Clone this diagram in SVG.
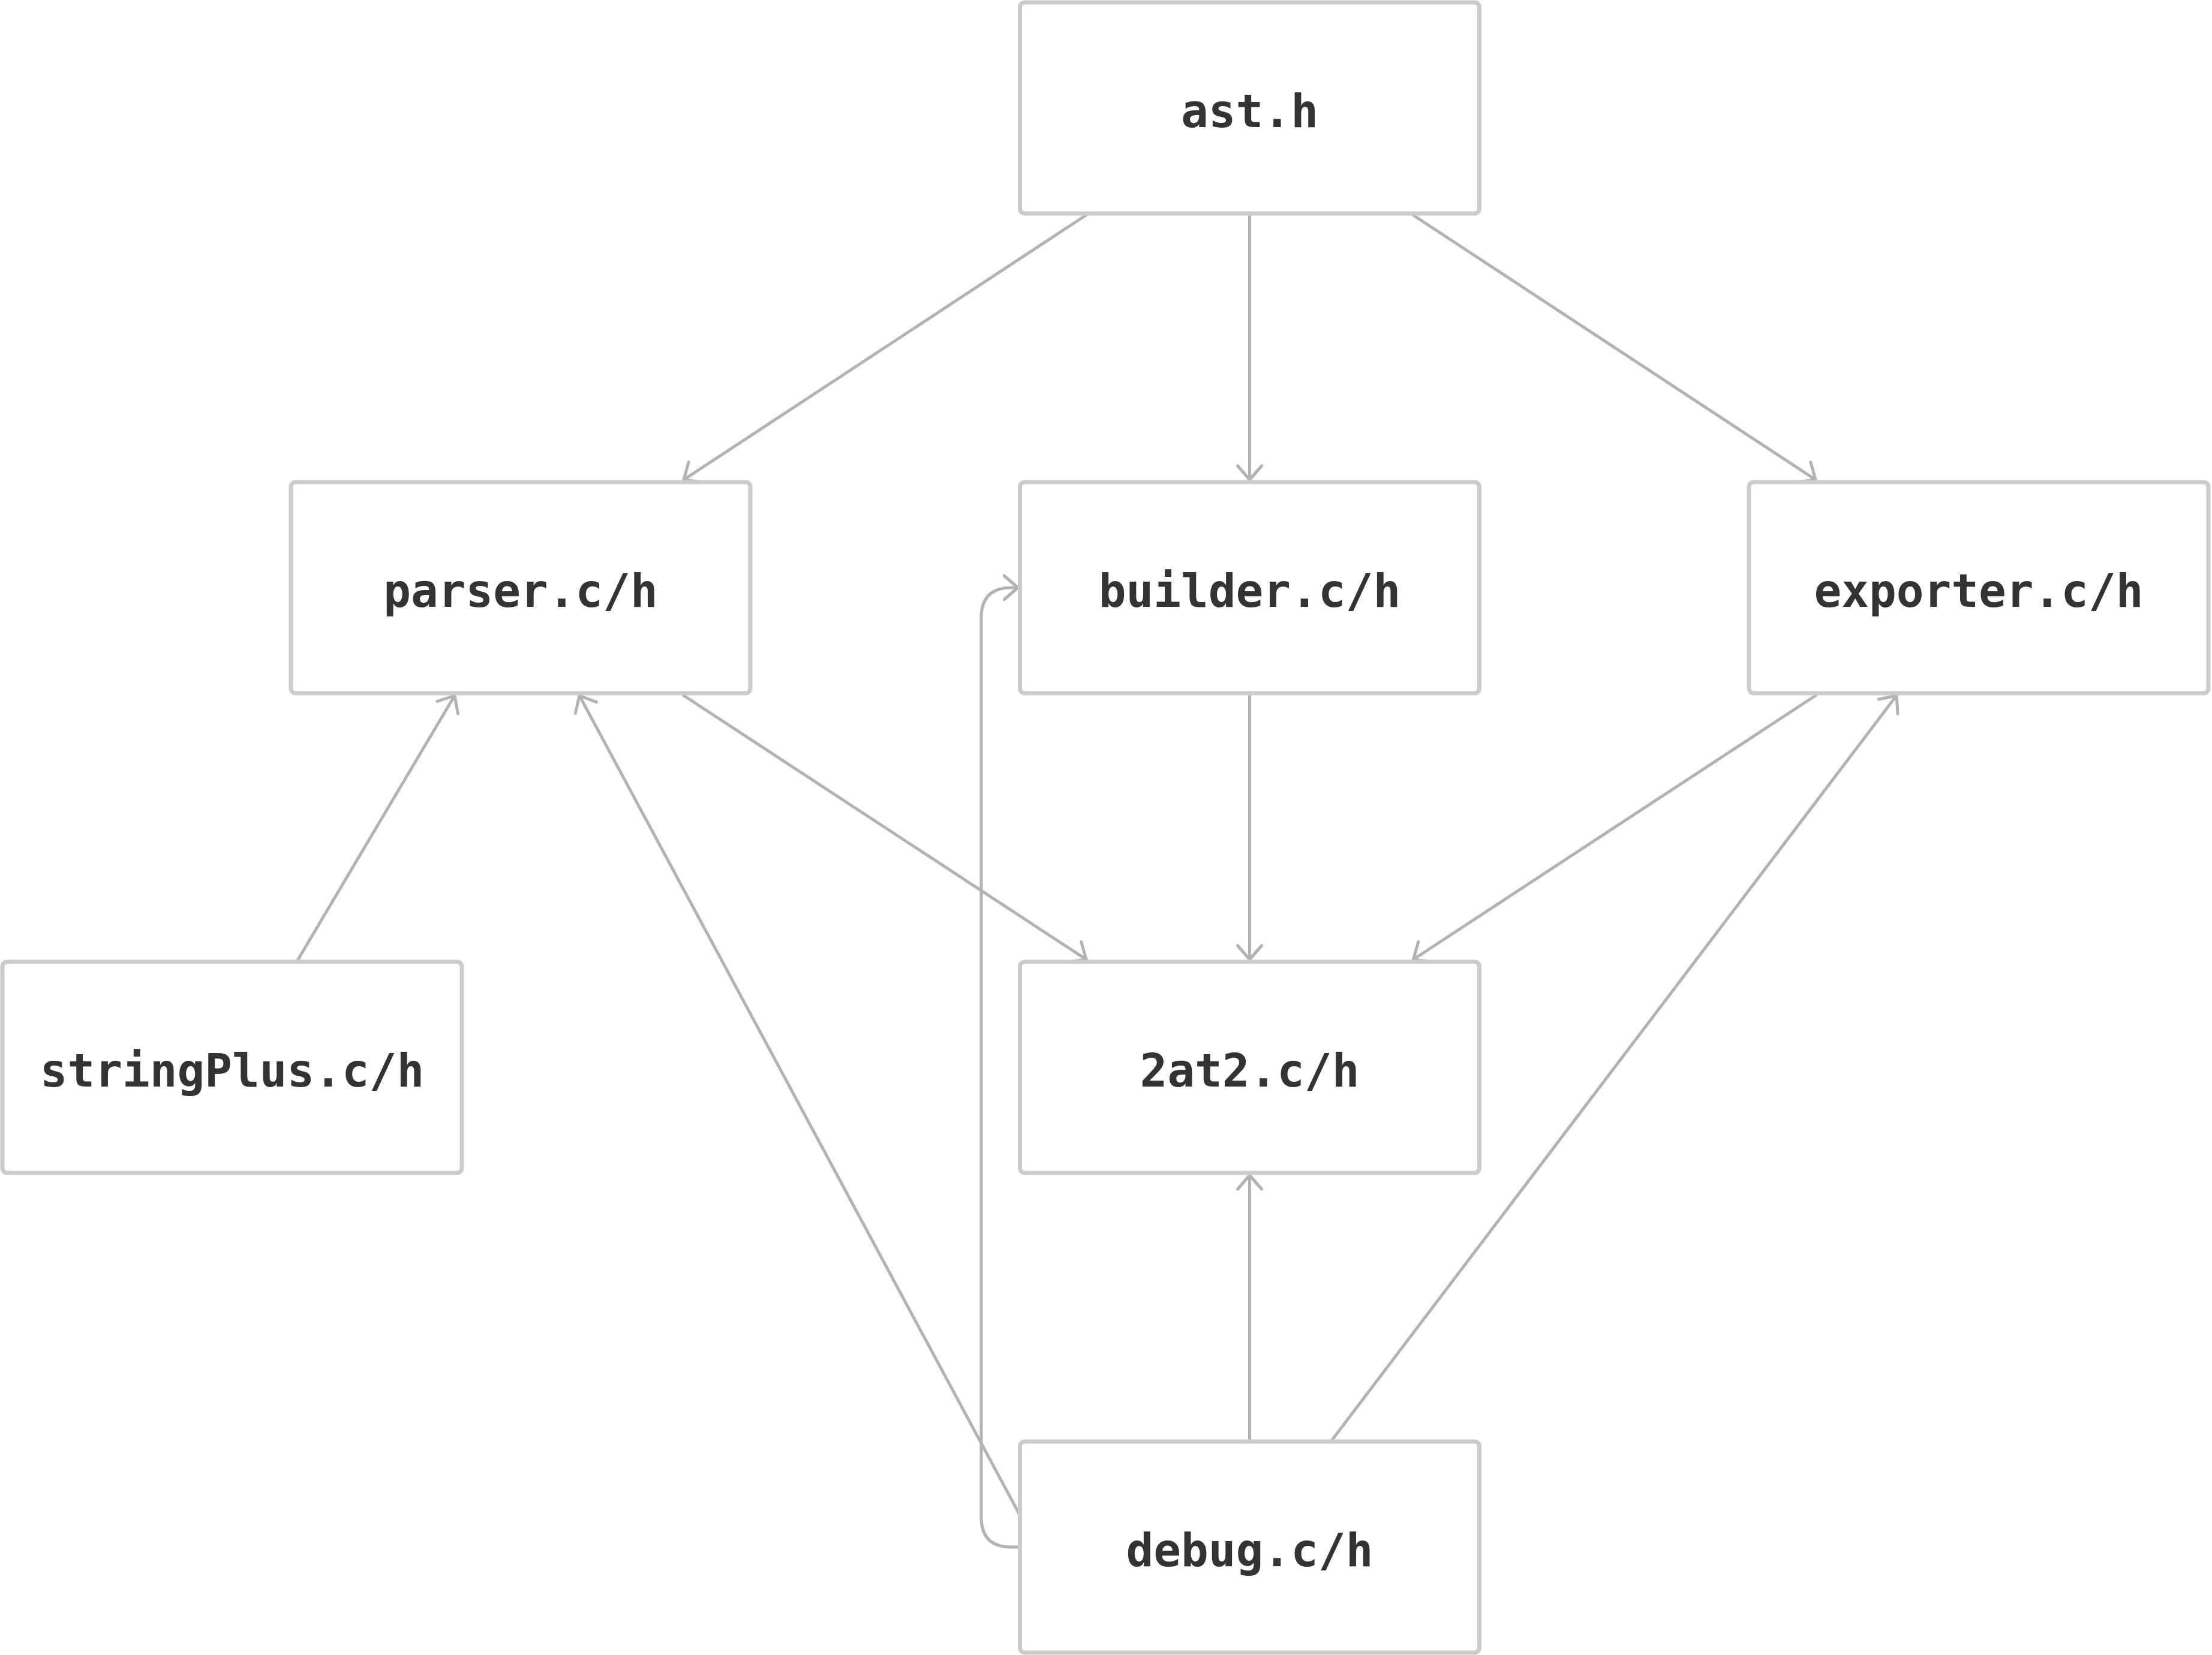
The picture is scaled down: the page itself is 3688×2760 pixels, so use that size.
<svg xmlns="http://www.w3.org/2000/svg" width="3688" height="2760" viewBox="0 0 3688 2760">
  <style>
    .box { fill: #ffffff; stroke: #cccccc; stroke-width: 7; }
    .lbl { font-family: "DejaVu Sans Mono", "Liberation Mono", monospace; font-size: 76px; font-weight: bold; fill: #333333; text-anchor: middle; }
    .edge { fill: none; stroke: #b3b3b3; stroke-width: 5; stroke-linecap: round; stroke-linejoin: round; marker-end: url(#arr); }
  </style>
  <defs>
    <marker id="arr" markerUnits="userSpaceOnUse" orient="auto" refX="0" refY="0" markerWidth="60" markerHeight="60" viewBox="-30 -30 60 60" overflow="visible">
      <path d="M -23 -20 L 0 0 L -23 20" fill="none" stroke="#b3b3b3" stroke-width="5" stroke-linecap="round" stroke-linejoin="round"/>
    </marker>
  </defs>
  <rect width="3688" height="2760" fill="#ffffff"/>

  <g id="connectors">
    <path class="edge" d="M 1810.5 359 L 1140 800"/>
    <path class="edge" d="M 2083.5 360 L 2083.5 800"/>
    <path class="edge" d="M 2356.5 359 L 3027 800"/>
    <path class="edge" d="M 1140 1160 L 1811 1600"/>
    <path class="edge" d="M 2083.5 1160 L 2083.5 1600"/>
    <path class="edge" d="M 3027 1160 L 2356.5 1600"/>
    <path class="edge" d="M 497 1600 L 758 1160"/>
    <path class="edge" d="M 1700 2526 L 966 1160"/>
    <path class="edge" d="M 1697 2580 L 1686 2580 Q 1636 2580 1636 2530 L 1636 1030 Q 1636 980 1686 980 L 1697 980"/>
    <path class="edge" d="M 2083.5 2400 L 2083.5 1960"/>
    <path class="edge" d="M 2222 2400 L 3162 1160"/>
  </g>

  <g id="node-ast">
    <rect class="box" x="1700.5" y="4" width="766" height="352" rx="8"/>
    <text class="lbl" x="2083.5" y="212">ast.h</text>
  </g>
  <g id="node-parser">
    <rect class="box" x="485" y="804" width="766" height="352" rx="8"/>
    <text class="lbl" x="868" y="1012">parser.c/h</text>
  </g>
  <g id="node-builder">
    <rect class="box" x="1700.5" y="804" width="766" height="352" rx="8"/>
    <text class="lbl" x="2083.5" y="1012">builder.c/h</text>
  </g>
  <g id="node-exporter">
    <rect class="box" x="2916" y="804" width="766" height="352" rx="8"/>
    <text class="lbl" x="3299" y="1012">exporter.c/h</text>
  </g>
  <g id="node-stringPlus">
    <rect class="box" x="4" y="1604" width="766" height="352" rx="8"/>
    <text class="lbl" x="387" y="1812">stringPlus.c/h</text>
  </g>
  <g id="node-2at2">
    <rect class="box" x="1700.5" y="1604" width="766" height="352" rx="8"/>
    <text class="lbl" x="2083.5" y="1812">2at2.c/h</text>
  </g>
  <g id="node-debug">
    <rect class="box" x="1700.5" y="2404" width="766" height="352" rx="8"/>
    <text class="lbl" x="2083.5" y="2612">debug.c/h</text>
  </g>
</svg>
